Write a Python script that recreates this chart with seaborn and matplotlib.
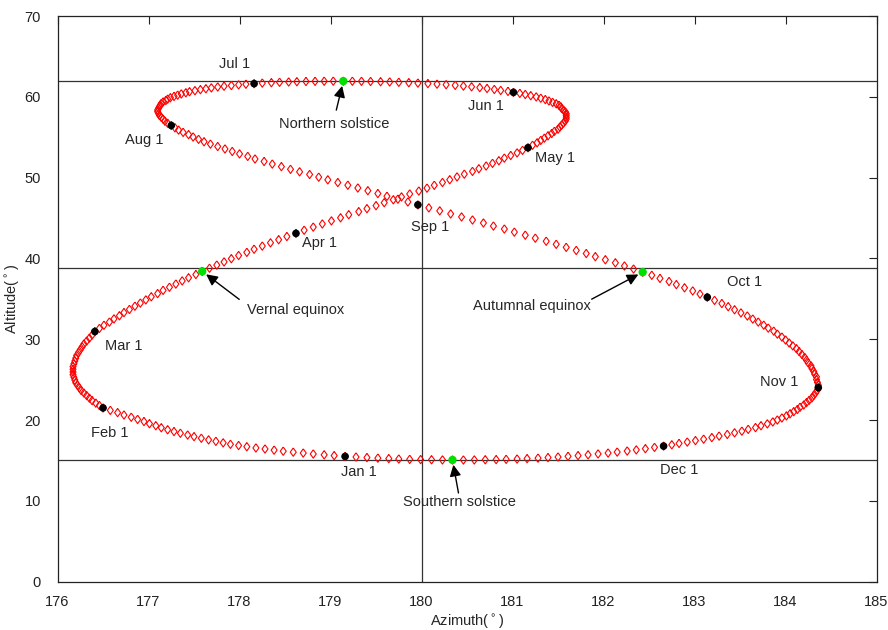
import numpy as np
import pandas as pd
import matplotlib.pyplot as plt
import seaborn as sns

sns.set_theme(style='white')
plt.rcParams['font.family'] = ['Liberation Sans', 'DejaVu Sans']

month_names = ['Jan', 'Feb', 'Mar', 'Apr', 'May', 'Jun',
               'Jul', 'Aug', 'Sep', 'Oct', 'Nov', 'Dec']
month_days = [31, 28, 31, 30, 31, 30, 31, 31, 30, 31, 30, 31]

# sun position at the same clock time every day, one list per month
azimuth = [
    [179.16, 179.04, 178.93, 178.81, 178.70, 178.59, 178.48, 178.38, 178.28, 178.18,
     178.08, 177.99, 177.90, 177.82, 177.74, 177.66, 177.58, 177.50, 177.43, 177.35,
     177.28, 177.21, 177.14, 177.08, 177.01, 176.95, 176.88, 176.81, 176.73, 176.66, 176.58],
    [176.50, 176.46, 176.42, 176.38, 176.35, 176.32, 176.29, 176.26, 176.24, 176.22,
     176.20, 176.19, 176.18, 176.17, 176.17, 176.17, 176.17, 176.18, 176.19, 176.20,
     176.21, 176.23, 176.25, 176.27, 176.29, 176.32, 176.35, 176.38],
    [176.41, 176.46, 176.51, 176.57, 176.62, 176.68, 176.73, 176.79, 176.85, 176.91,
     176.97, 177.03, 177.10, 177.16, 177.23, 177.30, 177.37, 177.44, 177.52, 177.59,
     177.67, 177.75, 177.83, 177.91, 177.99, 178.08, 178.16, 178.25, 178.34, 178.43, 178.52],
    [178.62, 178.71, 178.81, 178.91, 179.01, 179.11, 179.20, 179.31, 179.40, 179.50,
     179.59, 179.69, 179.78, 179.87, 179.97, 180.06, 180.14, 180.23, 180.31, 180.39,
     180.47, 180.56, 180.63, 180.71, 180.78, 180.85, 180.91, 180.98, 181.05, 181.11],
    [181.17, 181.22, 181.27, 181.31, 181.35, 181.39, 181.43, 181.46, 181.50, 181.52,
     181.54, 181.56, 181.58, 181.59, 181.59, 181.59, 181.59, 181.58, 181.56, 181.54,
     181.53, 181.51, 181.48, 181.44, 181.40, 181.36, 181.31, 181.26, 181.20, 181.14, 181.08],
    [181.01, 180.95, 180.87, 180.80, 180.72, 180.64, 180.55, 180.46, 180.37, 180.27,
     180.17, 180.07, 179.96, 179.86, 179.75, 179.65, 179.55, 179.44, 179.34, 179.24,
     179.14, 179.03, 178.93, 178.83, 178.73, 178.63, 178.54, 178.44, 178.35, 178.25],
    [178.16, 178.07, 177.99, 177.91, 177.83, 177.76, 177.69, 177.63, 177.57, 177.51,
     177.45, 177.41, 177.36, 177.32, 177.28, 177.24, 177.21, 177.19, 177.16, 177.14,
     177.13, 177.12, 177.11, 177.10, 177.10, 177.11, 177.12, 177.14, 177.16, 177.18, 177.21],
    [177.25, 177.29, 177.33, 177.38, 177.44, 177.49, 177.55, 177.61, 177.68, 177.76,
     177.84, 177.92, 178.00, 178.09, 178.17, 178.27, 178.36, 178.46, 178.56, 178.66,
     178.77, 178.87, 178.97, 179.08, 179.19, 179.30, 179.41, 179.52, 179.62, 179.74, 179.85],
    [179.96, 180.08, 180.20, 180.32, 180.44, 180.56, 180.68, 180.79, 180.91, 181.02,
     181.14, 181.25, 181.37, 181.48, 181.59, 181.70, 181.81, 181.91, 182.02, 182.13,
     182.23, 182.33, 182.43, 182.53, 182.62, 182.72, 182.80, 182.89, 182.98, 183.06],
    [183.14, 183.22, 183.30, 183.37, 183.44, 183.51, 183.58, 183.64, 183.70, 183.76,
     183.81, 183.87, 183.91, 183.96, 184.00, 184.04, 184.08, 184.12, 184.15, 184.18,
     184.21, 184.23, 184.25, 184.28, 184.29, 184.31, 184.32, 184.34, 184.34, 184.35, 184.36],
    [184.36, 184.35, 184.33, 184.31, 184.29, 184.26, 184.23, 184.20, 184.16, 184.13,
     184.09, 184.05, 184.01, 183.96, 183.91, 183.86, 183.80, 183.73, 183.67, 183.59,
     183.52, 183.44, 183.36, 183.27, 183.19, 183.10, 183.01, 182.92, 182.83, 182.75],
    [182.66, 182.56, 182.46, 182.36, 182.26, 182.15, 182.05, 181.94, 181.83, 181.72,
     181.61, 181.50, 181.39, 181.28, 181.16, 181.05, 180.93, 180.82, 180.70, 180.58,
     180.46, 180.34, 180.23, 180.11, 179.99, 179.87, 179.75, 179.64, 179.52, 179.40, 179.28],
]

altitude = [
    [15.50, 15.60, 15.70, 15.80, 15.92, 16.03, 16.15, 16.28, 16.42, 16.55,
     16.70, 16.85, 17.00, 17.18, 17.37, 17.55, 17.75, 17.95, 18.15, 18.37,
     18.58, 18.80, 19.05, 19.30, 19.55, 19.82, 20.08, 20.35, 20.63, 20.92, 21.20],
    [21.50, 21.80, 22.10, 22.41, 22.72, 23.03, 23.35, 23.66, 23.98, 24.30,
     24.62, 24.95, 25.28, 25.61, 25.94, 26.28, 26.62, 26.96, 27.30, 27.65,
     28.00, 28.35, 28.70, 29.06, 29.42, 29.78, 30.14, 30.53],
    [30.95, 31.34, 31.73, 32.13, 32.52, 32.91, 33.30, 33.69, 34.09, 34.48,
     34.87, 35.26, 35.65, 36.05, 36.44, 36.83, 37.22, 37.61, 38.01, 38.40,
     38.79, 39.18, 39.57, 39.97, 40.36, 40.75, 41.14, 41.53, 41.93, 42.32, 42.71],
    [43.10, 43.49, 43.88, 44.27, 44.65, 45.03, 45.41, 45.79, 46.16, 46.53,
     46.90, 47.26, 47.62, 47.98, 48.34, 48.70, 49.05, 49.40, 49.74, 50.09,
     50.43, 50.77, 51.10, 51.44, 51.77, 52.09, 52.42, 52.74, 53.06, 53.38],
    [53.70, 54.01, 54.31, 54.61, 54.89, 55.18, 55.46, 55.73, 56.00, 56.26,
     56.51, 56.76, 57.01, 57.25, 57.48, 57.71, 57.93, 58.14, 58.35, 58.56,
     58.76, 58.95, 59.14, 59.32, 59.49, 59.66, 59.83, 59.99, 60.14, 60.29, 60.43],
    [60.55, 60.67, 60.79, 60.91, 61.03, 61.14, 61.24, 61.33, 61.42, 61.50,
     61.57, 61.64, 61.70, 61.75, 61.80, 61.84, 61.87, 61.90, 61.92, 61.93,
     61.94, 61.94, 61.93, 61.92, 61.90, 61.87, 61.84, 61.80, 61.75, 61.70],
    [61.63, 61.56, 61.48, 61.40, 61.31, 61.22, 61.11, 61.00, 60.89, 60.76,
     60.63, 60.50, 60.36, 60.21, 60.05, 59.89, 59.72, 59.55, 59.37, 59.18,
     58.98, 58.79, 58.58, 58.37, 58.16, 57.93, 57.70, 57.47, 57.23, 56.98, 56.74],
    [56.45, 56.17, 55.89, 55.60, 55.32, 55.03, 54.74, 54.44, 54.15, 53.85,
     53.55, 53.24, 52.94, 52.63, 52.31, 52.00, 51.68, 51.36, 51.03, 50.72,
     50.39, 50.06, 49.73, 49.39, 49.06, 48.72, 48.38, 48.03, 47.69, 47.34, 46.99],
    [46.63, 46.26, 45.89, 45.51, 45.14, 44.76, 44.39, 44.01, 43.64, 43.26,
     42.88, 42.51, 42.13, 41.75, 41.37, 40.99, 40.61, 40.22, 39.84, 39.46,
     39.07, 38.69, 38.30, 37.92, 37.53, 37.14, 36.76, 36.37, 35.98, 35.59],
    [35.20, 34.81, 34.42, 34.03, 33.65, 33.26, 32.88, 32.50, 32.13, 31.75,
     31.38, 31.01, 30.64, 30.27, 29.91, 29.54, 29.18, 28.83, 28.47, 28.11,
     27.76, 27.41, 27.06, 26.71, 26.37, 26.02, 25.68, 25.35, 25.01, 24.67, 24.34],
    [24.01, 23.69, 23.37, 23.06, 22.75, 22.45, 22.16, 21.87, 21.59, 21.31,
     21.04, 20.78, 20.52, 20.26, 20.01, 19.77, 19.53, 19.30, 19.07, 18.85,
     18.63, 18.42, 18.22, 18.02, 17.83, 17.64, 17.46, 17.28, 17.11, 16.94],
    [16.78, 16.62, 16.46, 16.31, 16.17, 16.04, 15.92, 15.81, 15.70, 15.60,
     15.51, 15.43, 15.36, 15.29, 15.23, 15.18, 15.14, 15.11, 15.09, 15.07,
     15.06, 15.06, 15.07, 15.09, 15.11, 15.14, 15.18, 15.23, 15.29, 15.36, 15.43],
]

event_names = ['Vernal equinox', 'Northern solstice', 'Autumnal equinox', 'Southern solstice']
event_dates = [(3, 20), (6, 21), (9, 23), (12, 22)]

ref_altitudes = [62.0, 38.85, 15.1]
ref_azimuth = 180

rows = []
for m in range(12):
    assert len(azimuth[m]) == month_days[m] == len(altitude[m])
    for d in range(month_days[m]):
        rows.append((m + 1, d + 1, azimuth[m][d], altitude[m][d]))
df = pd.DataFrame(rows, columns=['month', 'day', 'az', 'alt'])

firsts = df[df.day == 1].reset_index(drop=True)
ev = pd.concat([df[(df.month == m) & (df.day == d)] for m, d in event_dates]).reset_index(drop=True)

fig = plt.figure(figsize=(8.88, 6.3), dpi=100)
ax = fig.add_axes([0.0648, 0.0767, 0.9223, 0.8979])

for y in ref_altitudes:
    ax.axhline(y, color='#333333', lw=0.9, zorder=1)
ax.axvline(ref_azimuth, color='#333333', lw=0.9, zorder=1)

# open diamond, a bit wider than matplotlib's thin one
diamond = [(0, 1), (0.72, 0), (0, -1), (-0.72, 0), (0, 1)]
sns.scatterplot(data=df, x='az', y='alt', marker=diamond, s=36, color='red',
                facecolor='none', edgecolor='red', linewidth=0.8, ax=ax, zorder=2)
sns.scatterplot(data=firsts, x='az', y='alt', s=30, color='black',
                edgecolor='none', ax=ax, zorder=3)
sns.scatterplot(data=ev, x='az', y='alt', s=36, color='#00e000',
                edgecolor='none', ax=ax, zorder=3)

fs = 10.5
# text offsets in pixels from each 1st-of-month dot
label_off = [(14, -16), (7, -25), (29, -14), (24, -10), (27, -10), (-28, -14),
             (-20, 20), (-27, -14), (12, -22), (37, 15), (-39, 6), (16, -24)]
for i, r in firsts.iterrows():
    ax.annotate('%s 1' % month_names[i], (r.az, r.alt), xytext=label_off[i],
                textcoords='offset pixels', ha='center', va='center', fontsize=fs)

text_off = [(93, -39), (-9, -43), (-111, -34), (7, -42)]
tail_off = [(37, -28), (-7, -29), (-51, -27), (6, -33)]
for i, r in ev.iterrows():
    ax.annotate(event_names[i], (r.az, r.alt), xytext=text_off[i],
                textcoords='offset pixels', ha='center', va='center', fontsize=fs)
    ax.annotate('', (r.az, r.alt), xytext=tail_off[i], textcoords='offset pixels',
                arrowprops=dict(arrowstyle='-|>', color='black', lw=1.0,
                                mutation_scale=17, shrinkA=0, shrinkB=3.5))

ax.set_xlim(176, 185)
ax.set_ylim(0, 70)
ax.set_xticks(np.arange(176, 186, 1))
ax.set_yticks(np.arange(0, 80, 10))
ax.tick_params(direction='in', length=6, width=0.8, top=True, right=True,
               labelsize=fs, colors='#222222')
ax.tick_params(axis='x', pad=9.5)
ax.tick_params(axis='y', pad=12)
for s in ax.spines.values():
    s.set_color('#222222')
    s.set_linewidth(0.9)
ax.set_xlabel(r'Azimuth($^\circ$)', fontsize=fs, labelpad=3)
ax.set_ylabel(r'Altitude($^\circ$)', fontsize=fs, labelpad=1.5)

fig.savefig('out.png', dpi=100)
